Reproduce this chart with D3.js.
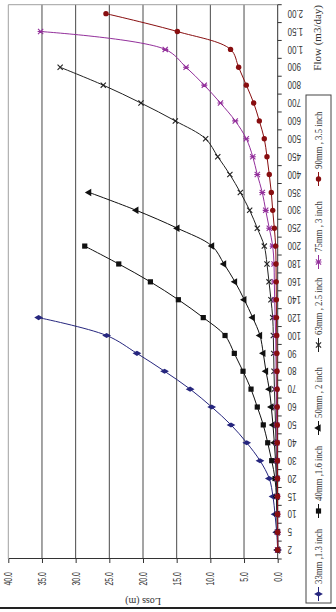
<!DOCTYPE html>
<html>
<head>
<meta charset="utf-8">
<script src="https://cdn.jsdelivr.net/npm/d3@7"></script>
<style>
  html, body { margin: 0; padding: 0; background: #fff; }
  svg { display: block; font-family: "Liberation Serif", "DejaVu Serif", serif; }
</style>
</head>
<body>
<div id="chart"></div>
<script>
// Flow categories (m3/day) and head loss (m) per pipe size
const categories = ["2", "5", "10", "15", "20", "30", "40", "50", "60", "70", "80", "90", "100", "120", "140", "160", "180", "200", "250", "300", "350", "400", "450", "500", "600", "700", "800", "900", "1.00", "1.50", "2.00"];
const lossTicks = [0, 5, 10, 15, 20, 25, 30, 35, 40];
const seriesNames = ["33mm ,1.3 inch", "40mm ,1.6 inch", "50mm , 2 inch", "63mm , 2.5 inch", "75mm , 3 inch", "90mm , 3.5 inch"];
const loss33 = [0, 0.15, 0.4, 0.7, 1.25, 2.63, 4.6, 6.93, 9.8, 13.0, 16.8, 20.9, 25.4, 35.5];
const loss40 = [0, 0.05, 0.1, 0.2, 0.4, 0.89, 1.48, 2.14, 3.03, 3.96, 5.15, 6.44, 7.82, 11.05, 14.75, 18.9, 23.6, 28.65];
const loss50 = [0, 0.03, 0.07, 0.12, 0.2, 0.32, 0.5, 0.7, 0.95, 1.25, 1.74, 2.14, 2.63, 3.71, 4.96, 6.34, 7.97, 9.75, 14.9, 21.0, 28.0];
const loss63 = [0, 0.02, 0.05, 0.08, 0.12, 0.18, 0.25, 0.32, 0.4, 0.48, 0.55, 0.6, 0.65, 0.74, 1.0, 1.29, 1.59, 1.99, 3.03, 4.16, 5.55, 7.1, 8.9, 10.7, 15.2, 20.3, 25.9, 32.3];
const loss75 = [0, 0.01, 0.02, 0.04, 0.06, 0.09, 0.12, 0.15, 0.18, 0.2, 0.23, 0.27, 0.3, 0.38, 0.45, 0.5, 0.55, 0.74, 1.25, 1.78, 2.29, 3.03, 3.7, 4.66, 6.3, 8.5, 10.9, 13.6, 16.7, 35.2];
const loss90 = [0, 0, 0.01, 0.02, 0.03, 0.04, 0.05, 0.06, 0.07, 0.08, 0.1, 0.12, 0.14, 0.18, 0.2, 0.22, 0.25, 0.3, 0.5, 0.74, 0.95, 1.25, 1.59, 1.99, 2.73, 3.56, 4.66, 5.8, 7.0, 14.9, 25.5];

const seriesValues = [loss33, loss40, loss50, loss63, loss75, loss90];
const colors = ["#26267e", "#111111", "#111111", "#222222", "#93309b", "#880e10"];
const markers = ["diamond", "square", "triangle", "cross", "star", "circle"];

// chart is drawn unrotated (612 wide x 336 high) and turned 90deg counter-clockwise
const W = 612, H = 336;
const plot = { left: 53, right: 607.3, top: 8.3, bottom: 277.7 };

const svg = d3.select("#chart").append("svg")
  .attr("width", 336)
  .attr("height", 612);

const g = svg.append("g")
  .attr("transform", `translate(0,${W}) rotate(-90)`);

const x = d3.scaleBand().domain(categories).range([plot.left, plot.right]).padding(0);
const y = d3.scaleLinear().domain([0, 40]).range([plot.bottom, plot.top]);
const cx = c => x(c) + x.bandwidth() / 2;

// gridlines
g.selectAll(".grid")
  .data(lossTicks.filter(d => d > 0 && d < 40))
  .join("line")
  .attr("x1", plot.left).attr("x2", plot.right)
  .attr("y1", d => y(d)).attr("y2", d => y(d))
  .attr("stroke", "#4a4a4a").attr("stroke-width", 1);

// plot border (top and right) in grey
g.append("path")
  .attr("d", `M${plot.left},${y(40)}H${plot.right}V${plot.bottom}`)
  .attr("fill", "none").attr("stroke", "#a0a0a0").attr("stroke-width", 1);

// value axis
const yAxis = g.append("g")
  .attr("transform", `translate(${plot.left},0)`)
  .call(d3.axisLeft(y).tickValues(lossTicks).tickFormat(d3.format(".1f")).tickSize(4).tickSizeOuter(0));
yAxis.select(".domain").attr("stroke", "#333");
yAxis.selectAll(".tick line").attr("stroke", "#333");
yAxis.selectAll("text")
  .attr("x", null).attr("dy", "0.35em")
  .attr("transform", "translate(-13,0) scale(0.7,1)")
  .attr("fill", "#333").style("font-size", "10px");

// category axis
const xAxis = g.append("g")
  .attr("transform", `translate(0,${plot.bottom})`)
  .call(d3.axisBottom(x).tickSize(0).tickSizeOuter(0));
xAxis.select(".domain").remove();
xAxis.selectAll("text")
  .attr("y", null).attr("dy", "0.35em")
  .attr("text-anchor", "end")
  .attr("transform", "translate(0,10) rotate(-90) scale(0.72,1)")
  .attr("fill", "#333").style("font-size", "11px");

g.append("line")
  .attr("x1", plot.left).attr("x2", plot.right)
  .attr("y1", plot.bottom).attr("y2", plot.bottom)
  .attr("stroke", "#333");

g.selectAll(".ctick")
  .data(categories.concat([null]))
  .join("line")
  .attr("x1", (d, i) => plot.left + i * x.bandwidth())
  .attr("x2", (d, i) => plot.left + i * x.bandwidth())
  .attr("y1", plot.bottom).attr("y2", plot.bottom + 4)
  .attr("stroke", "#333");

// axis titles
g.append("text")
  .attr("transform", `translate(14,${(plot.top + plot.bottom) / 2}) rotate(-90)`)
  .attr("text-anchor", "middle")
  .attr("fill", "#333").style("font-size", "10px")
  .text("Loss (m)");

g.append("text")
  .attr("transform", `translate(607,321)`)
  .attr("text-anchor", "end")
  .attr("fill", "#333").style("font-size", "11px")
  .text("Flow (m3/day)");

// marker drawing
function drawMarker(sel, type, color) {
  if (type === "diamond") {
    sel.append("path").attr("d", d3.symbol(d3.symbolDiamond, 22)()).attr("fill", color);
  } else if (type === "square") {
    sel.append("rect").attr("x", -2.6).attr("y", -2.6).attr("width", 5.2).attr("height", 5.2).attr("fill", color);
  } else if (type === "triangle") {
    sel.append("path").attr("d", d3.symbol(d3.symbolTriangle, 24)()).attr("fill", color);
  } else if (type === "cross") {
    sel.append("path").attr("d", "M-2.6,-2.6L2.6,2.6M-2.6,2.6L2.6,-2.6").attr("stroke", color).attr("stroke-width", 1.1);
  } else if (type === "star") {
    sel.append("path").attr("d", "M-2.6,-2.6L2.6,2.6M-2.6,2.6L2.6,-2.6M0,-3L0,3").attr("stroke", color).attr("stroke-width", 1.1);
  } else {
    sel.append("circle").attr("r", 2.7).attr("fill", color);
  }
}

const line = d3.line()
  .x(d => cx(d.c))
  .y(d => y(d.v))
  .curve(d3.curveCatmullRom.alpha(0.5));

seriesValues.forEach((vals, s) => {
  const pts = vals.map((v, i) => ({ c: categories[i], v: v }));
  g.append("path")
    .datum(pts)
    .attr("d", line)
    .attr("fill", "none")
    .attr("stroke", colors[s])
    .attr("stroke-width", 1);
  pts.forEach(p => {
    const m = g.append("g").attr("transform", `translate(${cx(p.c)},${y(p.v)})`);
    drawMarker(m, markers[s], colors[s]);
  });
});

// legend
const legend = { x0: 9, x1: 517, y0: 306, y1: 331 };
g.append("rect")
  .attr("x", legend.x0).attr("y", legend.y0)
  .attr("width", legend.x1 - legend.x0).attr("height", legend.y1 - legend.y0)
  .attr("fill", "#fff").attr("stroke", "#444").attr("stroke-width", 1);

const step = 83;
const ly = (legend.y0 + legend.y1) / 2;
seriesNames.forEach((name, s) => {
  const mx = legend.x0 + 9 + s * step;
  g.append("line")
    .attr("x1", mx - 7).attr("x2", mx + 7)
    .attr("y1", ly).attr("y2", ly)
    .attr("stroke", colors[s]);
  const m = g.append("g").attr("transform", `translate(${mx},${ly})`);
  drawMarker(m, markers[s], colors[s]);
  g.append("text")
    .attr("transform", `translate(${mx + 10},${ly}) scale(0.88,1)`)
    .attr("dy", "0.35em")
    .attr("fill", "#333").style("font-size", "10px")
    .text(name);
});

// dark rule along the bottom of the picture
g.append("line")
  .attr("x1", 4).attr("x2", 4)
  .attr("y1", 0).attr("y2", H)
  .attr("stroke", "#222").attr("stroke-width", 2);
</script>
</body>
</html>
